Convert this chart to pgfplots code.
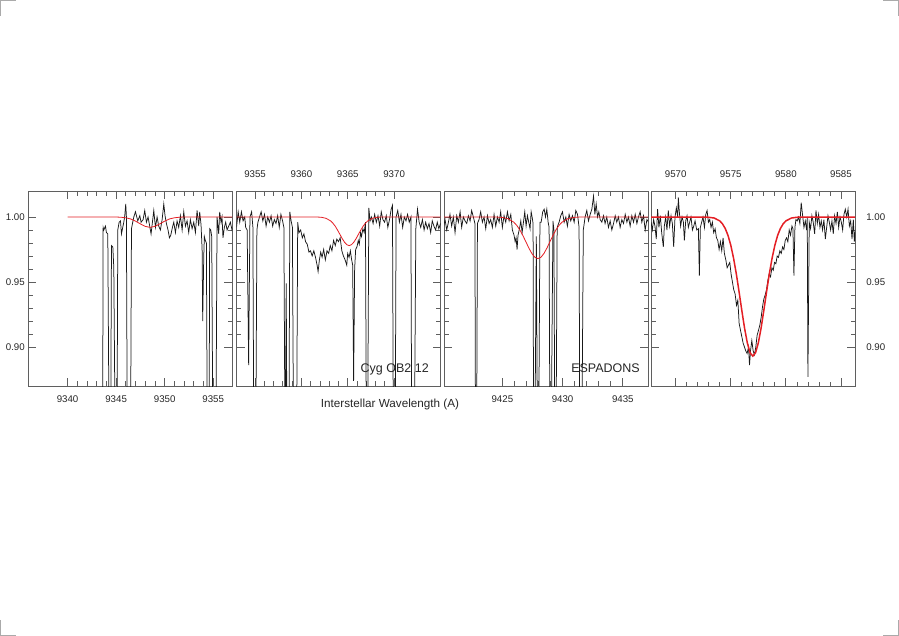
\documentclass[border=0pt]{standalone}
\usepackage{fontspec}
\setmainfont{Liberation Sans}
\usepackage{pgfplots}
\pgfplotsset{compat=1.18}

\definecolor{framegray}{RGB}{95,95,95}
\definecolor{fitred}{RGB}{228,30,36}
\definecolor{specblack}{RGB}{25,25,25}
\definecolor{markgray}{RGB}{170,170,170}

\pgfplotsset{
  panel/.style={
    scale only axis, width=204pt, height=195pt,
    anchor=south west,
    ymin=0.87, ymax=1.02,
    ytick={0.90,0.95,1.00}, minor y tick num=4,
    minor x tick num=4,
    tick align=inside,
    major tick length=8pt, minor tick length=4.5pt,
    axis line style={draw=framegray, line width=0.9pt},
    tick style={draw=framegray, line width=0.8pt},
    tick label style={font=\fontsize{9.7}{11}\selectfont, text=black!85},
    /pgf/number format/assume math mode=true,
    xticklabel style={/pgf/number format/1000 sep={}},
    yticklabel style={/pgf/number format/fixed, /pgf/number format/fixed zerofill, /pgf/number format/precision=2},
  },
  lowx/.style={xticklabel style={yshift=-6.5pt}},
  highx/.style={xticklabel pos=right, xtick pos=both, xticklabel style={yshift=9.5pt}},
  spec/.style={draw=specblack, line width=0.75pt},
  fit/.style={draw=fitred, line width=0.8pt},
}

\begin{document}
\begin{tikzpicture}
\path[use as bounding box] (0pt,0pt) rectangle (899pt,-636pt);
% crop marks
\draw[markgray, line width=0.8pt] (0pt,-0.5pt) -- (16pt,-0.5pt) (0.5pt,0pt) -- (0.5pt,-16pt);
\draw[markgray, line width=0.8pt] (899pt,-0.5pt) -- (883pt,-0.5pt) (898.5pt,0pt) -- (898.5pt,-16pt);
\draw[markgray, line width=0.8pt] (0pt,-635.5pt) -- (16pt,-635.5pt) (0.5pt,-636pt) -- (0.5pt,-620pt);
\draw[markgray, line width=0.8pt] (899pt,-635.5pt) -- (883pt,-635.5pt) (898.5pt,-636pt) -- (898.5pt,-620pt);

% panel 1
\begin{axis}[panel, lowx, at={(28.3pt,-386pt)},
  xmin=9335.95, xmax=9356.97, xtick={9340,9345,9350,9355}]
\addplot[spec] coordinates {
(9343.60,0.80) (9343.66,0.992) (9343.73,0.990) (9343.90,0.993) (9344.00,0.988) (9344.14,0.987) (9344.30,0.80) (9344.42,0.80)
(9344.52,0.978) (9344.66,0.977) (9344.76,0.961) (9344.93,0.80) (9345.08,0.80) (9345.17,0.990) (9345.31,0.996) (9345.45,0.997)
(9345.55,0.987) (9345.68,0.992) (9345.79,0.996) (9345.89,1.001) (9345.99,1.010) (9346.06,1.000) (9346.16,0.80) (9346.47,0.80)
(9346.58,0.991) (9346.71,0.996) (9346.82,1.000) (9346.99,1.004) (9347.23,0.997) (9347.44,1.001) (9347.57,0.996) (9347.78,0.998)
(9347.95,1.005) (9348.12,0.996) (9348.29,1.000) (9348.46,0.993) (9348.60,0.987) (9348.74,0.996) (9348.88,1.005) (9349.05,0.992)
(9349.22,1.000) (9349.39,0.993) (9349.56,0.990) (9349.74,0.998) (9349.91,1.010) (9350.04,1.001) (9350.18,0.995) (9350.35,0.990)
(9350.49,0.984) (9350.63,0.986) (9350.80,0.992) (9350.94,0.996) (9351.11,0.988) (9351.28,0.997) (9351.45,0.992) (9351.62,1.001)
(9351.80,0.990) (9351.97,1.004) (9352.14,0.993) (9352.31,0.997) (9352.48,0.988) (9352.65,0.998) (9352.83,0.991) (9353.00,0.996)
(9353.17,0.988) (9353.34,1.005) (9353.51,0.993) (9353.61,1.004) (9353.75,0.994) (9353.86,0.975) (9353.92,0.920) (9354.03,0.970)
(9354.09,0.985) (9354.19,0.982) (9354.30,0.980) (9354.41,0.80) (9354.57,0.80) (9354.64,0.991) (9354.75,0.990) (9354.85,0.985)
(9354.99,0.80) (9355.26,0.80) (9355.40,1.000) (9355.57,0.987) (9355.67,1.004) (9355.81,0.996) (9355.91,1.000) (9356.01,0.984)
(9356.15,0.992) (9356.29,0.996) (9356.43,0.990) (9356.60,0.993) (9356.77,0.996) (9356.94,0.990) (9357.11,0.994)
};
\addplot[fit] coordinates {
(9340,1.000) (9345,1.000) (9345.5,0.9998) (9346.0,0.9994) (9346.5,0.9985) (9347.0,0.9968) (9347.5,0.9947) (9348.0,0.9928)
(9348.5,0.992) (9349.0,0.9928) (9349.5,0.9947) (9350.0,0.9968) (9350.5,0.9985) (9351.0,0.9994) (9351.5,0.9998) (9352.0,1.000) (9357,1.000)
};
\end{axis}

% panel 2
\begin{axis}[panel, highx, at={(236.5pt,-386pt)}, yticklabels={},
  xmin=9353, xmax=9375, xtick={9355,9360,9365,9370}]
\addplot[spec] coordinates {
(9353.00,0.992) (9353.18,1.004) (9353.35,0.996) (9353.53,1.004) (9353.71,0.997) (9353.89,1.000) (9353.99,0.992) (9354.15,0.990)
(9354.31,0.886) (9354.45,1.000) (9354.63,1.004) (9354.77,0.992) (9354.88,0.80) (9355.06,0.80) (9355.20,0.990) (9355.31,0.996)
(9355.48,1.000) (9355.66,1.004) (9355.84,0.997) (9356.02,1.002) (9356.19,0.993) (9356.37,1.000) (9356.55,0.996) (9356.73,1.001)
(9356.90,0.993) (9357.08,0.998) (9357.26,0.995) (9357.44,1.001) (9357.61,0.992) (9357.79,1.002) (9357.97,0.997) (9358.11,0.992)
(9358.25,0.80) (9358.36,0.949) (9358.46,0.80) (9358.64,0.80) (9358.75,1.004) (9358.89,0.997) (9359.03,0.992) (9359.17,0.80)
(9359.46,0.80) (9359.60,0.996) (9359.74,0.988) (9359.92,0.990) (9360.10,0.984) (9360.27,0.987) (9360.45,0.981) (9360.63,0.979)
(9360.81,0.973) (9360.98,0.974) (9361.16,0.970) (9361.34,0.974) (9361.52,0.969) (9361.69,0.963) (9361.80,0.958) (9361.94,0.967)
(9362.08,0.973) (9362.23,0.969) (9362.40,0.975) (9362.58,0.967) (9362.76,0.974) (9362.94,0.972) (9363.11,0.978) (9363.29,0.974)
(9363.47,0.982) (9363.65,0.978) (9363.82,0.983) (9364.00,0.981) (9364.18,0.984) (9364.36,0.974) (9364.53,0.970) (9364.71,0.967)
(9364.89,0.963) (9364.99,0.972) (9365.14,0.969) (9365.28,0.974) (9365.42,0.967) (9365.53,0.963) (9365.63,0.874) (9365.74,0.960)
(9365.85,0.975) (9365.99,0.977) (9366.13,0.982) (9366.24,0.979) (9366.38,0.988) (9366.48,0.985) (9366.63,0.991) (9366.77,0.988)
(9366.91,0.996) (9367.02,0.80) (9367.12,0.80) (9367.27,1.007) (9367.41,0.997) (9367.55,1.000) (9367.73,0.995) (9367.90,1.002)
(9368.08,0.996) (9368.26,1.001) (9368.44,0.993) (9368.61,1.004) (9368.79,0.998) (9368.97,0.996) (9369.15,1.001) (9369.32,0.992)
(9369.50,0.998) (9369.68,1.006) (9369.82,1.009) (9369.93,0.80) (9370.10,0.80) (9370.21,1.000) (9370.39,1.005) (9370.57,0.996)
(9370.74,1.002) (9370.92,0.992) (9371.10,1.000) (9371.28,0.997) (9371.45,1.002) (9371.63,0.996) (9371.81,1.000) (9371.91,0.80)
(9372.16,0.80) (9372.34,0.991) (9372.52,1.006) (9372.70,0.996) (9372.87,0.992) (9373.05,0.998) (9373.23,0.990) (9373.40,0.996)
(9373.58,0.991) (9373.76,0.995) (9373.94,0.988) (9374.11,0.997) (9374.29,0.993) (9374.47,0.990) (9374.65,0.996) (9374.82,0.991)
(9375.00,0.995)
};
\addplot[fit] coordinates {
(9353.0,1.000) (9361.65,1.000) (9362.15,0.9998) (9362.65,0.9990) (9363.15,0.9970) (9363.40,0.9952) (9363.65,0.9929) (9363.90,0.9899)
(9364.15,0.9867) (9364.40,0.9834) (9364.65,0.9806) (9364.90,0.9787) (9365.15,0.978) (9365.40,0.9787) (9365.65,0.9806) (9365.90,0.9834)
(9366.15,0.9867) (9366.40,0.9899) (9366.65,0.9929) (9366.90,0.9952) (9367.15,0.9970) (9367.65,0.9990) (9368.15,0.9998) (9368.65,1.000) (9375.0,1.000)
};
\end{axis}

% panel 3
\begin{axis}[panel, lowx, at={(444.2pt,-386pt)}, yticklabels={},
  xmin=9420.17, xmax=9437.11, xtick={9425,9430,9435}]
\addplot[spec] coordinates {
(9420.10,0.992) (9420.24,0.998) (9420.38,0.990) (9420.52,0.996) (9420.65,1.002) (9420.79,0.993) (9420.93,1.000) (9421.07,0.988)
(9421.21,1.001) (9421.35,0.996) (9421.49,1.004) (9421.62,0.992) (9421.76,1.000) (9421.90,0.997) (9422.04,0.995) (9422.18,1.001)
(9422.32,0.997) (9422.45,1.005) (9422.59,1.000) (9422.72,0.995) (9422.78,0.80) (9422.85,0.80) (9422.93,0.995) (9423.06,0.998)
(9423.20,1.004) (9423.34,0.996) (9423.48,1.000) (9423.62,0.991) (9423.76,1.001) (9423.90,0.995) (9424.03,0.998) (9424.17,0.992)
(9424.31,1.002) (9424.45,0.993) (9424.59,1.000) (9424.73,0.996) (9424.86,1.004) (9425.00,0.992) (9425.14,1.001) (9425.28,0.996)
(9425.42,1.004) (9425.56,0.997) (9425.70,1.002) (9425.83,0.990) (9425.97,0.986) (9426.06,0.981) (9426.14,0.984) (9426.22,0.975)
(9426.30,0.986) (9426.42,0.991) (9426.53,0.997) (9426.64,0.988) (9426.75,0.996) (9426.86,1.004) (9426.97,0.993) (9427.08,1.001)
(9427.19,0.996) (9427.30,0.991) (9427.39,1.004) (9427.47,1.000) (9427.55,0.995) (9427.60,0.80) (9427.68,0.80) (9427.82,0.985)
(9427.93,0.80) (9428.00,0.80) (9428.12,0.996) (9428.22,0.996) (9428.35,1.004) (9428.47,1.006) (9428.58,1.000) (9428.69,1.006)
(9428.80,0.996) (9428.88,0.992) (9428.96,0.80) (9429.03,0.80) (9429.20,0.997) (9429.28,0.990) (9429.37,0.80) (9429.44,0.80)
(9429.55,0.992) (9429.71,0.996) (9429.85,1.001) (9429.99,1.004) (9430.13,0.996) (9430.27,1.000) (9430.40,0.993) (9430.54,1.002)
(9430.68,0.997) (9430.82,1.001) (9430.96,0.996) (9431.10,1.005) (9431.24,1.002) (9431.37,0.992) (9431.44,0.80) (9431.58,0.80)
(9431.72,0.990) (9431.87,1.000) (9432.01,1.005) (9432.15,0.997) (9432.29,1.002) (9432.43,1.006) (9432.57,1.016) (9432.68,1.002)
(9432.79,1.010) (9432.90,1.000) (9433.01,1.004) (9433.12,0.998) (9433.26,0.996) (9433.40,1.001) (9433.53,0.995) (9433.67,1.000)
(9433.81,0.992) (9433.95,0.997) (9434.09,0.990) (9434.23,0.995) (9434.37,1.001) (9434.50,0.996) (9434.64,1.000) (9434.78,0.992)
(9434.92,0.998) (9435.06,0.995) (9435.20,1.002) (9435.34,0.996) (9435.47,1.000) (9435.61,0.993) (9435.75,1.001) (9435.89,0.996)
(9436.03,1.002) (9436.17,0.995) (9436.30,1.000) (9436.44,1.004) (9436.58,0.996) (9436.72,1.001) (9436.86,0.990) (9437.00,0.998)
(9437.14,0.996)
};
\addplot[fit] coordinates {
(9420.1,1.000) (9424.45,1.000) (9424.95,0.9997) (9425.45,0.9988) (9425.95,0.9960) (9426.20,0.9935) (9426.45,0.9901) (9426.70,0.9858)
(9426.95,0.9810) (9427.20,0.9761) (9427.45,0.9719) (9427.70,0.9690) (9427.95,0.968) (9428.20,0.9690) (9428.45,0.9719) (9428.70,0.9761)
(9428.95,0.9810) (9429.20,0.9858) (9429.45,0.9901) (9429.70,0.9935) (9429.95,0.9960) (9430.45,0.9988) (9430.95,0.9997) (9431.45,1.000) (9437.1,1.000)
};
\end{axis}

% panel 4
\begin{axis}[panel, highx, at={(651.2pt,-386pt)},
  yticklabel pos=right, ytick pos=both, yticklabel style={xshift=7.6pt},
  xmin=9567.78, xmax=9586.29, xtick={9570,9575,9580,9585}]
\addplot[spec] coordinates {
(9567.76,0.996) (9567.88,0.990) (9568.00,0.998) (9568.12,0.993) (9568.24,0.983) (9568.36,1.006) (9568.48,0.992) (9568.61,1.001)
(9568.73,0.988) (9568.88,0.977) (9568.97,0.993) (9569.09,1.000) (9569.21,0.990) (9569.33,1.005) (9569.45,0.993) (9569.58,1.001)
(9569.70,0.995) (9569.82,0.977) (9569.94,1.000) (9570.06,1.007) (9570.18,1.000) (9570.24,1.015) (9570.33,1.004) (9570.45,0.993)
(9570.58,1.000) (9570.70,0.996) (9570.79,0.982) (9570.91,0.997) (9571.03,1.001) (9571.15,0.992) (9571.27,0.996) (9571.39,1.000)
(9571.52,0.990) (9571.64,0.993) (9571.76,0.997) (9571.91,0.990) (9572.06,0.991) (9572.15,0.955) (9572.24,0.992) (9572.36,0.996)
(9572.48,1.000) (9572.61,0.992) (9572.73,1.002) (9572.85,1.005) (9572.97,0.996) (9573.09,0.998) (9573.21,0.992) (9573.33,0.996)
(9573.45,0.988) (9573.58,0.991) (9573.70,0.984) (9573.82,0.982) (9573.94,0.975) (9574.06,0.981) (9574.18,0.974) (9574.30,0.984)
(9574.42,0.972) (9574.55,0.967) (9574.67,0.961) (9574.79,0.963) (9574.91,0.965) (9575.03,0.956) (9575.15,0.950) (9575.27,0.944)
(9575.39,0.941) (9575.52,0.932) (9575.64,0.936) (9575.76,0.918) (9575.88,0.913) (9576.00,0.908) (9576.12,0.903) (9576.24,0.900)
(9576.36,0.897) (9576.48,0.895) (9576.61,0.900) (9576.70,0.886) (9576.79,0.897) (9576.91,0.905) (9577.03,0.897) (9577.15,0.894)
(9577.27,0.900) (9577.39,0.909) (9577.52,0.913) (9577.64,0.917) (9577.76,0.923) (9577.88,0.931) (9578.00,0.937) (9578.12,0.940)
(9578.24,0.944) (9578.36,0.951) (9578.48,0.956) (9578.61,0.954) (9578.73,0.961) (9578.85,0.959) (9578.97,0.965) (9579.09,0.964)
(9579.21,0.970) (9579.33,0.969) (9579.45,0.974) (9579.58,0.972) (9579.70,0.977) (9579.82,0.975) (9579.94,0.982) (9580.06,0.984)
(9580.18,0.981) (9580.30,0.990) (9580.42,0.986) (9580.55,0.993) (9580.64,0.991) (9580.73,0.955) (9580.82,0.992) (9580.91,0.998)
(9581.03,0.997) (9581.15,1.000) (9581.27,0.995) (9581.39,1.011) (9581.52,1.001) (9581.64,0.992) (9581.76,0.997) (9581.88,0.990)
(9581.94,1.000) (9582.00,0.877) (9582.12,0.996) (9582.24,0.991) (9582.36,1.001) (9582.48,0.996) (9582.61,0.987) (9582.73,1.005)
(9582.85,0.995) (9582.97,1.002) (9583.09,0.992) (9583.21,0.997) (9583.33,0.990) (9583.45,0.998) (9583.58,0.983) (9583.70,0.992)
(9583.82,1.001) (9583.94,0.996) (9584.06,0.990) (9584.18,0.997) (9584.30,0.987) (9584.42,1.001) (9584.55,0.995) (9584.67,1.004)
(9584.79,0.992) (9584.91,1.000) (9585.03,0.996) (9585.15,0.990) (9585.27,1.002) (9585.39,1.006) (9585.52,1.000) (9585.64,1.006)
(9585.76,0.993) (9585.88,0.997) (9586.00,0.983) (9586.12,0.998) (9586.21,0.981) (9586.30,0.990)
};
\addplot[fit, line width=1.5pt] coordinates {
(9567.75,1.000) (9572.0,1.000) (9573.0,0.9998) (9573.5,0.9992) (9574.0,0.9970) (9574.25,0.9947) (9574.5,0.9911) (9574.75,0.9858)
(9575.0,0.9783) (9575.25,0.9684) (9575.5,0.9564) (9575.75,0.9426) (9576.0,0.9282) (9576.25,0.9145) (9576.5,0.9032) (9576.75,0.8956)
(9577.0,0.893) (9577.25,0.8956) (9577.5,0.9032) (9577.75,0.9145) (9578.0,0.9282) (9578.25,0.9426) (9578.5,0.9564) (9578.75,0.9684)
(9579.0,0.9783) (9579.25,0.9858) (9579.5,0.9911) (9579.75,0.9947) (9580.0,0.9970) (9580.5,0.9992) (9581.0,0.9998) (9582.0,1.000) (9586.3,1.000)
};
\end{axis}

% labels
\node[anchor=base, font=\fontsize{11.7}{13}\selectfont, text=black!85] at (390pt,-407pt) {Interstellar Wavelength (A)};
\node[anchor=base east, inner sep=0pt, font=\fontsize{12.5}{14}\selectfont, text=black!85] at (429pt,-372.5pt) {Cyg OB2 12};
\node[anchor=base east, inner sep=0pt, font=\fontsize{12.5}{14}\selectfont, text=black!85] at (640pt,-372.7pt) {ESPADONS};
\end{tikzpicture}
\end{document}
